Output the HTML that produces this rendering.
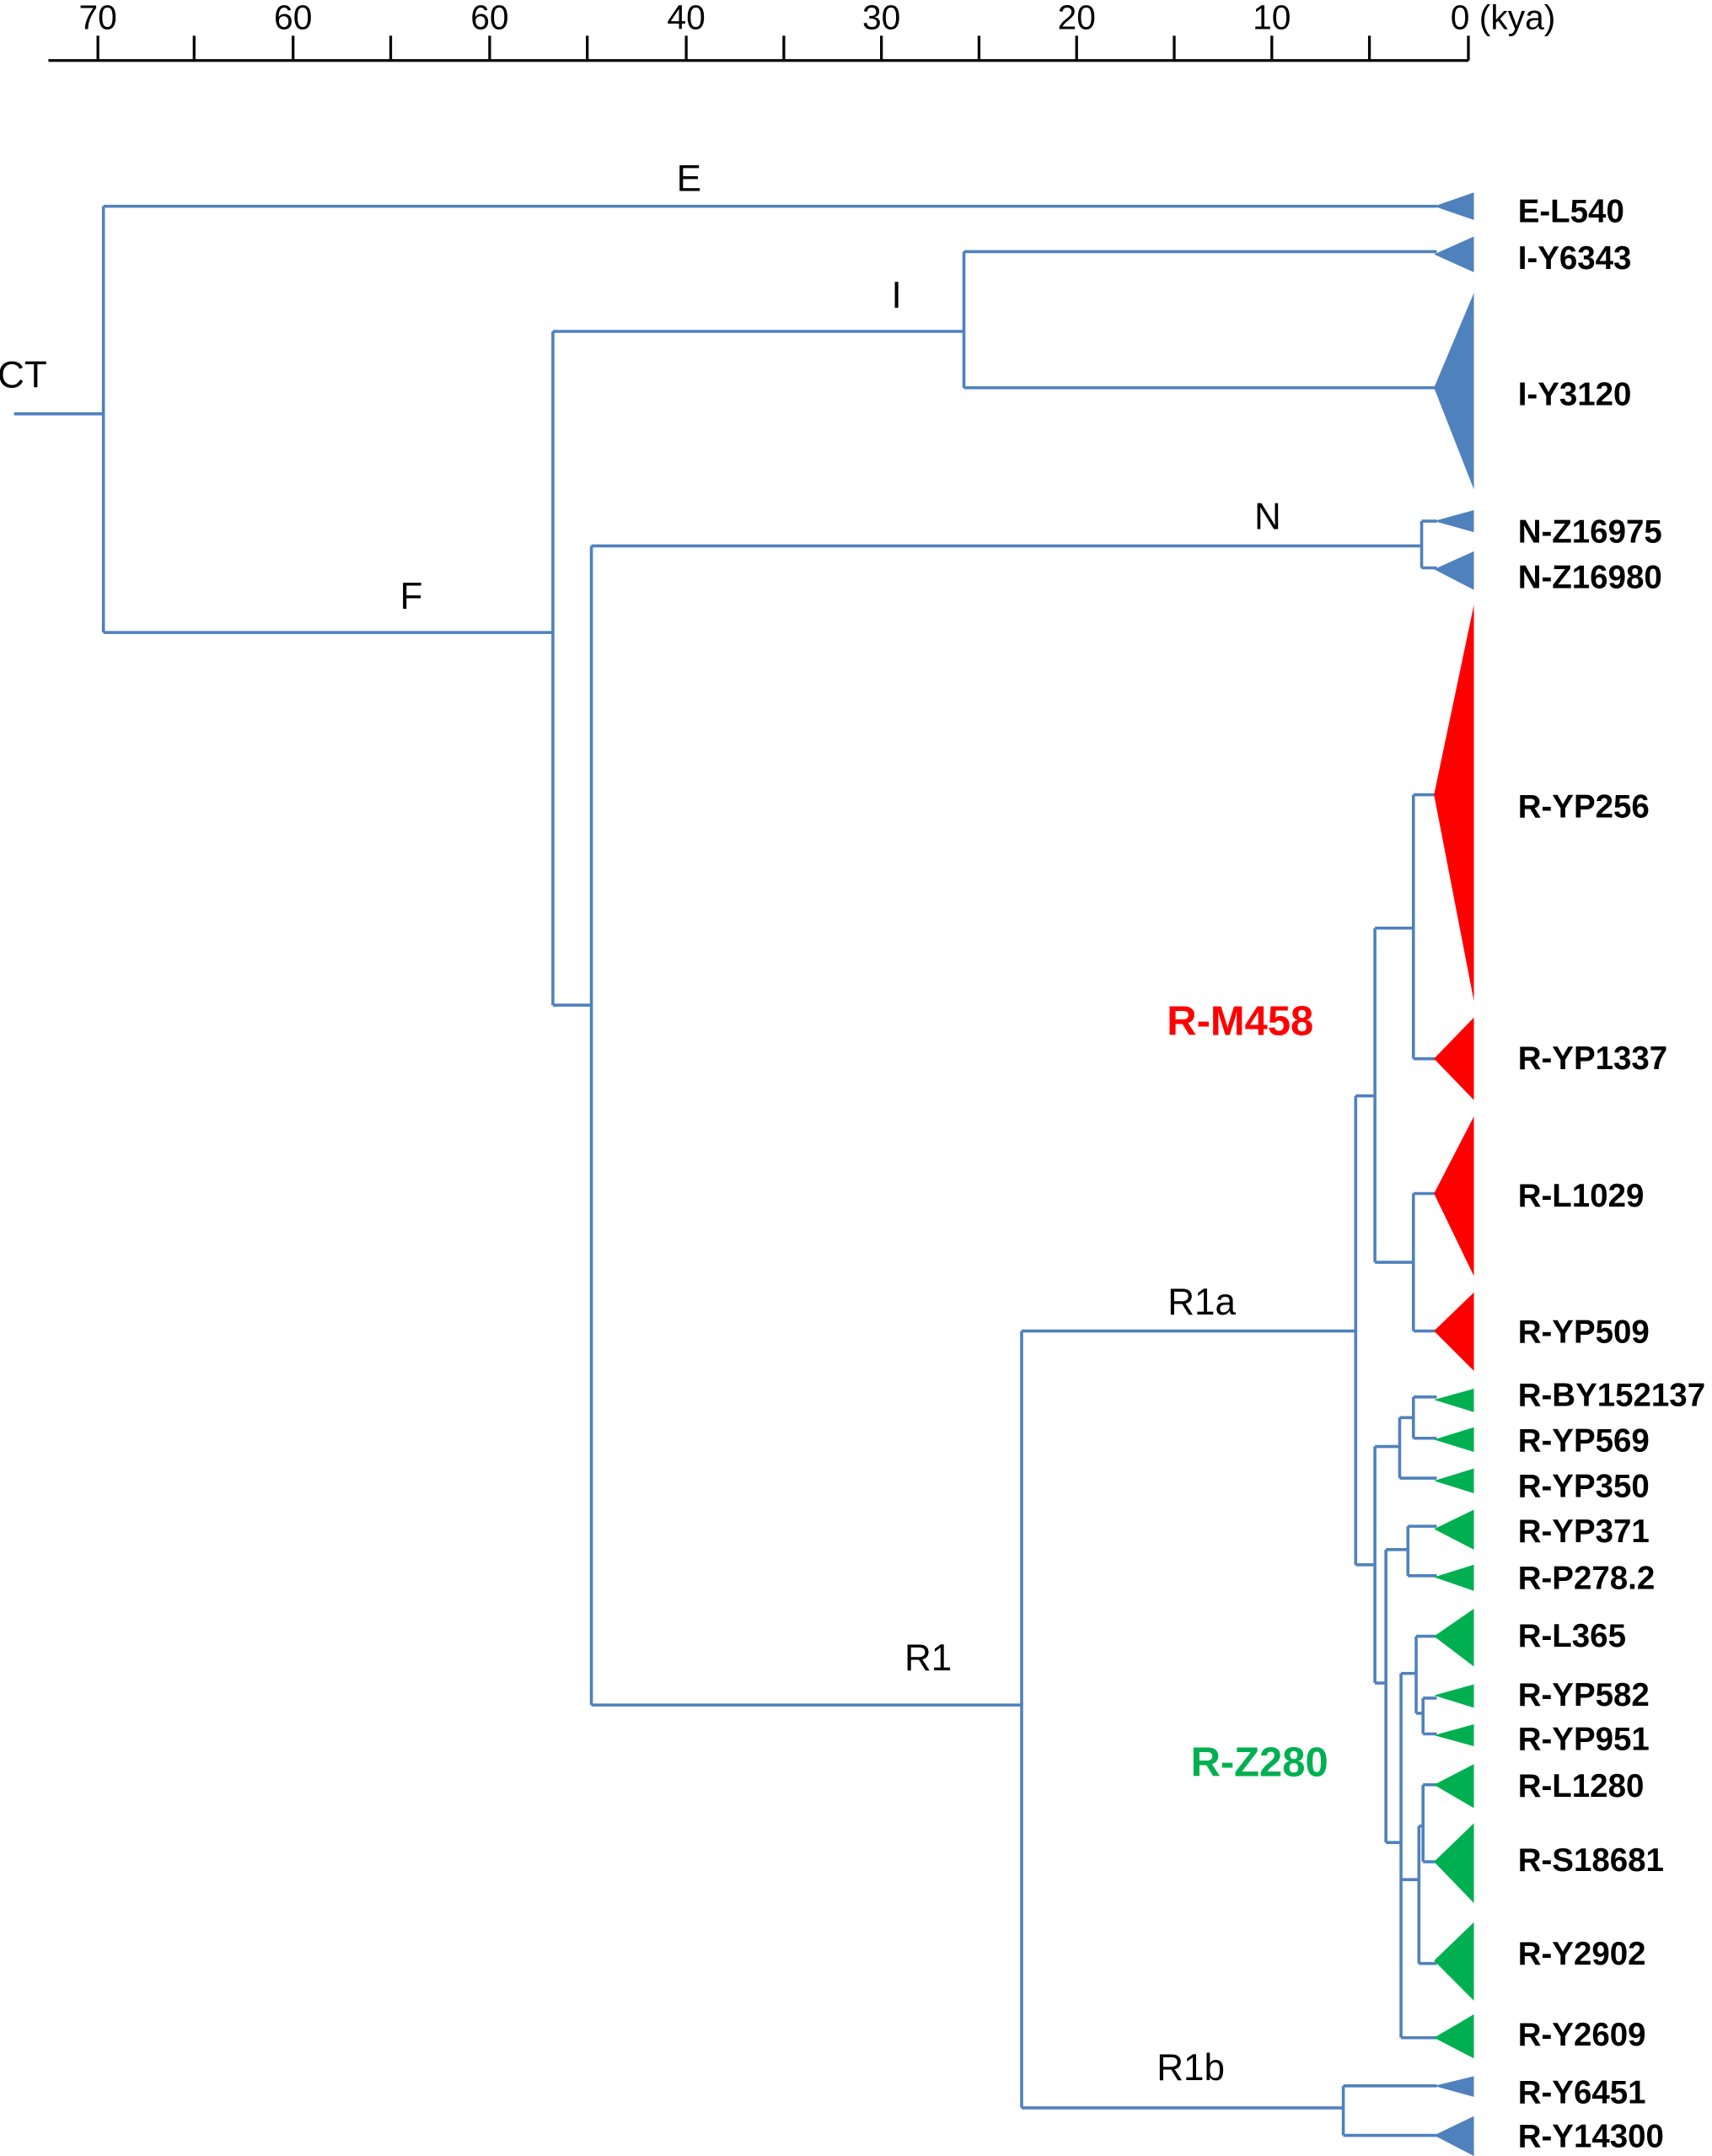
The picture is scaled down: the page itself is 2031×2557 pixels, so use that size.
<!DOCTYPE html>
<html><head><meta charset="utf-8"><style>html,body{margin:0;padding:0;background:#fff}svg{display:block}</style></head>
<body>
<svg width="2031" height="2557" viewBox="0 0 1245 1568" xmlns="http://www.w3.org/2000/svg" font-family="Liberation Sans, sans-serif">
<g stroke="#000" stroke-width="2" fill="none">
<line x1="35" y1="44" x2="1068" y2="44"/>
<path d="M71 44V26M141 44V26M213 44V26M284 44V26M356 44V26M427 44V26M499 44V26M570 44V26M641 44V26M712 44V26M783 44V26M854 44V26M925 44V26M996 44V26M1068 44V26"/>
</g>
<g font-size="25" fill="#000" text-anchor="middle">
<text x="71" y="21">70</text><text x="213" y="21">60</text><text x="356" y="21">60</text><text x="499" y="21">40</text><text x="641" y="21">30</text><text x="783" y="21">20</text><text x="925" y="21">10</text>
<text x="1055" y="21" text-anchor="start">0 (kya)</text>
</g>
<g stroke="#4f81bd" stroke-width="2.2" fill="none">
<path d="M10 301H75M75 150V460M75 150H1045M75 460H402M402 241V731M402 241H701M701 183V282M701 183H1045M701 282H1045M402 731H430M430 397V1240M430 397H1034M1034 379V413M1034 379H1045M1034 413H1045M430 1240H743M743 968V1533M743 968H986M743 1533H977M977 1517V1553M977 1517H1045M977 1553H1045"/>
<path d="M986 797V1138M986 797H1000M1000 675V918M1000 675H1028M1028 578V770M1028 578H1045M1028 770H1045M1000 918H1028M1028 868V968M1028 868H1045M1028 968H1045"/>
<path d="M986 1138H1000M1000 1052V1224M1000 1052H1018M1018 1031V1075M1018 1075H1045M1018 1031H1028M1028 1016V1046M1028 1016H1045M1028 1046H1045M1000 1224H1008M1008 1127V1340M1008 1127H1024M1024 1110V1146M1024 1110H1045M1024 1146H1045M1008 1340H1019M1019 1217V1482M1019 1482H1045M1019 1217H1030M1030 1190V1246M1030 1190H1045M1030 1246H1035M1035 1235V1261M1035 1235H1045M1035 1261H1045M1019 1367H1032M1032 1328V1428M1032 1428H1045M1032 1328H1035M1035 1298V1354M1035 1298H1045M1035 1354H1045"/>
</g>
<g fill="#4f81bd">
<polygon points="1043,150 1072,140 1072,160"/>
<polygon points="1043,185 1072,172 1072,198"/>
<polygon points="1043,282 1072,213 1072,356"/>
<polygon points="1043,379 1072,371 1072,387"/>
<polygon points="1043,414 1072,401 1072,429"/>
<polygon points="1043,1517 1072,1510 1072,1525"/>
<polygon points="1043,1553 1072,1539 1072,1568"/>
</g>
<g fill="#ff0000">
<polygon points="1043,578 1072,440 1072,728"/>
<polygon points="1043,770 1072,740 1072,800"/>
<polygon points="1043,868 1072,812 1072,928"/>
<polygon points="1043,968 1072,940 1072,997"/>
</g>
<g fill="#00b050">
<polygon points="1043,1018 1072,1010 1072,1027"/>
<polygon points="1043,1047 1072,1038 1072,1056"/>
<polygon points="1043,1077 1072,1068 1072,1086"/>
<polygon points="1043,1112 1072,1098 1072,1127"/>
<polygon points="1043,1147 1072,1138 1072,1157"/>
<polygon points="1043,1190 1072,1170 1072,1212"/>
<polygon points="1043,1233 1072,1225 1072,1242"/>
<polygon points="1043,1262 1072,1254 1072,1270"/>
<polygon points="1043,1298 1072,1283 1072,1315"/>
<polygon points="1043,1354 1072,1326 1072,1384"/>
<polygon points="1043,1426 1072,1398 1072,1455"/>
<polygon points="1043,1482 1072,1465 1072,1497"/>
</g>
<g font-size="27" fill="#000" text-anchor="middle" dominant-baseline="central">
<text x="16" y="273">CT</text><text x="501" y="130">E</text><text x="299" y="434">F</text><text x="652" y="215">I</text><text x="922" y="376">N</text>
<text x="675" y="1206">R1</text><text x="874" y="947">R1a</text><text x="866" y="1504">R1b</text>
</g>
<text x="902" y="743" font-size="30" font-weight="bold" fill="#ff0000" text-anchor="middle" dominant-baseline="central">R-M458</text>
<text x="916" y="1282" font-size="30" font-weight="bold" fill="#00b050" text-anchor="middle" dominant-baseline="central">R-Z280</text>
<g font-size="23.6" font-weight="bold" fill="#000" dominant-baseline="central">
<text x="1104" y="154">E-L540</text><text x="1104" y="188">I-Y6343</text><text x="1104" y="287">I-Y3120</text>
<text x="1104" y="387">N-Z16975</text><text x="1104" y="420">N-Z16980</text>
<text x="1104" y="587">R-YP256</text><text x="1104" y="770">R-YP1337</text><text x="1104" y="870">R-L1029</text><text x="1104" y="969">R-YP509</text>
<text x="1104" y="1015">R-BY152137</text><text x="1104" y="1048">R-YP569</text><text x="1104" y="1081">R-YP350</text><text x="1104" y="1114">R-YP371</text>
<text x="1104" y="1148">R-P278.2</text><text x="1104" y="1190">R-L365</text><text x="1104" y="1233">R-YP582</text><text x="1104" y="1265">R-YP951</text>
<text x="1104" y="1299">R-L1280</text><text x="1104" y="1353">R-S18681</text><text x="1104" y="1421">R-Y2902</text><text x="1104" y="1480">R-Y2609</text>
<text x="1104" y="1522">R-Y6451</text><text x="1104" y="1554">R-Y14300</text>
</g>
</svg>
</body></html>
